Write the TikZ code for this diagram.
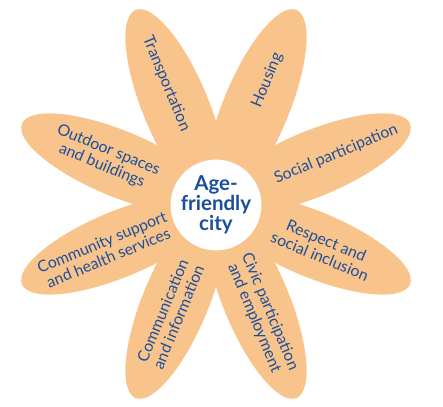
\documentclass[tikz,border=0pt]{standalone}
\usepackage{fontspec}
\setmainfont{Lato}
\usetikzlibrary{calc}
\definecolor{petalc}{HTML}{F9C48C}
\definecolor{textc}{HTML}{1B4F9B}
\begin{document}
\begin{tikzpicture}[x=1pt,y=1pt,
  petal/.style={fill=petalc},
  lbl/.style={text=textc, font=\fontsize{15.8}{17}\selectfont, align=center, inner sep=0pt},
  hub/.style={circle, fill=white, minimum size=80pt, inner sep=0pt, text=textc,
    font=\bfseries\fontsize{20.5}{18.5}\selectfont, align=center}]
\useasboundingbox (0,0) rectangle (443,406);
\coordinate (C) at (216,202);
\foreach \a in {22.5,67.5,...,337.5}{
  \begin{scope}[shift={(C)}, rotate=\a]
    \fill[petal] (105,0) ellipse [x radius=105pt, y radius=33pt];
  \end{scope}
}
\node[hub] (hub) at ([yshift=-1pt]C) {Age-\\friendly\\city};
\node[lbl, rotate=-67.5] (transp) at ($(C)+(112.5:130)$) {Transportation};
\node[lbl, rotate=67.5] (housing) at ($(C)+(67.5:134)$) {Housing};
\node[lbl, rotate=22.5] (social) at ($(C)+(22.5:130)$) {Social participation};
\node[lbl, rotate=-22.5] (respect) at ($(C)+(-22.5:116)$) {Respect and\\social inclusion};
\node[lbl, rotate=-67.5] (civic) at ($(C)+(-67.5:120)$) {Civic participation\\and employment};
\node[lbl, rotate=67.5] (comm) at ($(C)+(-112.5:119)$) {Communication\\and information};
\node[lbl, rotate=22.5] (community) at ($(C)+(-157.5:120)$) {Community support\\and health services};
\node[lbl, rotate=-22.5] (outdoor) at ($(C)+(157.5:120)$) {Outdoor spaces\\and buildings};
\end{tikzpicture}
\end{document}
